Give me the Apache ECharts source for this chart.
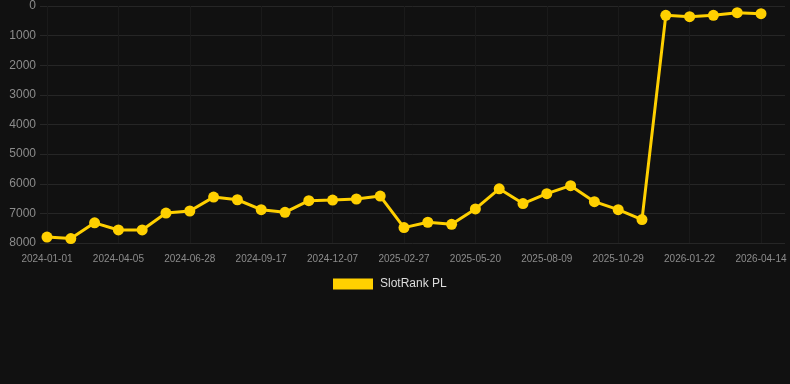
<!DOCTYPE html>
<html>
	<head>
		<meta http-equiv="Content-Type" content="text/html; charset=utf-8" />
		<title></title>
		<script type="text/javascript" src="https://cdn.jsdelivr.net/npm/echarts@6/dist/echarts.min.js"></script>
		<style>
			html, body { margin: 0; padding: 0; background: #111111; }
		</style>
	</head>
	<body>
		<div id="infoChart" style="width:790px; height:384px;"></div>
		<script type="text/javascript">
			var dates = [
			    '2024-01-01', '2024-02-02', '2024-03-05', '2024-04-05', '2024-05-03', '2024-05-31',
			    '2024-06-28', '2024-07-25', '2024-08-21', '2024-09-17', '2024-10-14', '2024-11-10',
			    '2024-12-07', '2025-01-03', '2025-01-30', '2025-02-27', '2025-03-26', '2025-04-22',
			    '2025-05-20', '2025-06-16', '2025-07-13', '2025-08-09', '2025-09-05', '2025-10-02',
			    '2025-10-29', '2025-11-26', '2025-12-24', '2026-01-22', '2026-02-18', '2026-03-17',
			    '2026-04-14'
			];
			var rankPL = [
			    7800, 7850, 7320, 7560, 7560, 6990, 6920, 6450, 6540, 6875, 6965, 6570,
			    6550, 6515, 6415, 7480, 7300, 7370, 6850, 6170, 6670, 6335, 6065, 6605,
			    6875, 7210, 315, 360, 315, 225, 260
			];
			var yTicks = [0, 8000, 1000];

			var option = {
			    backgroundColor: '#111111',
			    animation: false,
			    legend: {
			        data: [{ name: 'SlotRank PL', icon: 'rect' }],
			        top: 273,
			        left: 328,
			        itemWidth: 40,
			        itemHeight: 11,
			        itemGap: 10,
			        textStyle: { color: '#dddddd', fontSize: 12, padding: [0, 0, 0, 2] }
			    },
			    grid: [
			        { left: 47, right: 29, top: 6, bottom: 141 },
			        { left: 40, right: 5, top: 6, bottom: 141 }
			    ],
			    xAxis: [
			        {
			            type: 'category',
			            gridIndex: 0,
			            boundaryGap: false,
			            data: dates,
			            axisLine: { show: false },
			            axisTick: { show: false },
			            axisLabel: { interval: 2, color: '#8c8c8c', fontSize: 10, margin: 11 },
			            splitLine: { show: true, interval: 2, lineStyle: { color: '#1a1a1a' } }
			        },
			        {
			            type: 'value',
			            gridIndex: 1,
			            show: false,
			            min: 0,
			            max: 1
			        }
			    ],
			    yAxis: [
			        {
			            type: 'value',
			            gridIndex: 0,
			            inverse: true,
			            min: yTicks[0],
			            max: yTicks[1],
			            interval: yTicks[2],
			            axisLine: { show: false },
			            axisTick: { show: false },
			            axisLabel: {
			                color: '#8c8c8c',
			                fontSize: 12,
			                margin: 11,
			                formatter: function (v) { return String(v); }
			            },
			            splitLine: { show: false }
			        },
			        {
			            type: 'value',
			            gridIndex: 1,
			            inverse: true,
			            min: yTicks[0],
			            max: yTicks[1],
			            interval: yTicks[2],
			            axisLine: { show: false },
			            axisTick: { show: false },
			            axisLabel: { show: false },
			            splitLine: { show: true, lineStyle: { color: '#262626' } }
			        }
			    ],
			    series: [
			        {
			            name: 'SlotRank PL',
			            type: 'line',
			            xAxisIndex: 0,
			            yAxisIndex: 0,
			            data: rankPL,
			            symbol: 'circle',
			            symbolSize: 11,
			            itemStyle: { color: '#FFD000' },
			            lineStyle: { color: '#FFD000', width: 3 }
			        }
			    ]
			};

			var mychart = echarts.init(document.getElementById('infoChart'));
			mychart.setOption(option);
		</script>
	</body>
</html>
